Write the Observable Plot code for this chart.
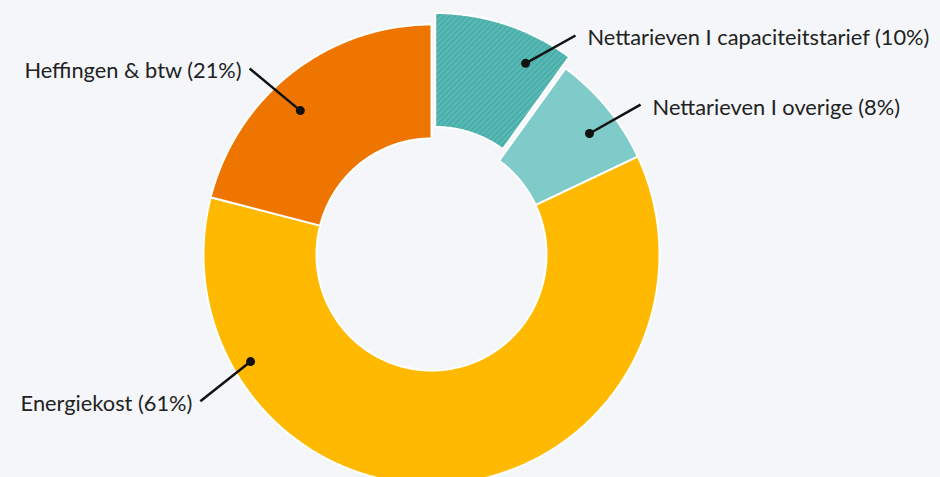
<!DOCTYPE html>
<html><head><meta charset="utf-8">
<script src="https://cdn.jsdelivr.net/npm/d3@7"></script>
<script src="https://cdn.jsdelivr.net/npm/@observablehq/plot@0.6"></script>
<style>
html,body{margin:0;padding:0;background:#f4f6f9;overflow:hidden;}
#chart svg{display:block;}
</style></head><body><div id="chart"></div>
<script>
// ---- data ----
const categories = ["Nettarieven I capaciteitstarief", "Nettarieven I overige", "Energiekost", "Heffingen & btw"];
const shares = [10, 8, 61, 21];
const exploded = ["Nettarieven I capaciteitstarief"];

// ---- styles / layout ----
const colors = ["url(#hatch)", "#7ecbca", "#ffb900", "#ee7600"];
const W = 940, H = 477, CX = 431, CY = 254, RX = 228, RY = 230, INNER = 115 / 228, EXPLODE = 12 / 228;
// label leader geometry in polar units (angle deg clockwise from top, radius in units of R)
const leaders = [
  {dotA: 26.9, dotR: 0.876, endA: 34.3, endR: 1.092, side: "right"},
  {dotA: 52.8, dotR: 0.870, endA: 54.6, endR: 1.125, side: "right"},
  {dotA: 239.6, dotR: 0.920, endA: 237.8, endR: 1.198, side: "left"},
  {dotA: 317.4, dotR: 0.850, endA: 315.4, endR: 1.136, side: "left"}
];

const total = d3.sum(shares);
const rad = (deg) => deg * Math.PI / 180;
const pol = (a, r) => [Math.sin(a) * r, -Math.cos(a) * r];

// slice polygons
const rows = [];
const sliceInfo = [];
let acc = 0;
categories.forEach((c, i) => {
  const a0 = acc / total * 2 * Math.PI;
  acc += shares[i];
  const a1 = acc / total * 2 * Math.PI;
  const mid = (a0 + a1) / 2;
  const off = exploded.includes(c) ? pol(mid, EXPLODE) : [0, 0];
  sliceInfo.push({c, off});
  const n = Math.max(8, Math.ceil((a1 - a0) / 0.01));
  const pts = [];
  for (let k = 0; k <= n; k++) pts.push(pol(a0 + (a1 - a0) * k / n, 1));
  for (let k = n; k >= 0; k--) pts.push(pol(a0 + (a1 - a0) * k / n, INNER));
  pts.push(pts[0]);
  pts.forEach(([x, y]) => rows.push({cat: c, x: x + off[0], y: y + off[1]}));
});

// leaders & labels
const labelRows = categories.map((c, i) => {
  const L = leaders[i], off = sliceInfo[i].off;
  const [dx, dy] = pol(rad(L.dotA), L.dotR);
  const [ex, ey] = pol(rad(L.endA), L.endR);
  return {cat: c, text: `${c} (${shares[i]}%)`, x1: dx + off[0], y1: dy + off[1], x2: ex + off[0], y2: ey + off[1], side: L.side};
});

const chart = Plot.plot({
  width: W, height: H, margin: 0,
  style: {background: "transparent", fontFamily: "Lato, sans-serif"},
  x: {domain: [-CX / RX, (W - CX) / RX], range: [0, W], axis: null},
  y: {domain: [-CY / RY, (H - CY) / RY], range: [0, H], axis: null},
  color: {domain: categories, range: colors},
  marks: [
    Plot.line(rows, {x: "x", y: "y", z: "cat", fill: "cat", stroke: "white", strokeWidth: 2, curve: "linear"}),
    Plot.link(labelRows, {x1: "x1", y1: "y1", x2: "x2", y2: "y2", stroke: "#111", strokeWidth: 2.5}),
    Plot.dot(labelRows, {x: "x1", y: "y1", r: 4.5, fill: "#111"}),
    Plot.text(labelRows.filter(d => d.side === "right"), {x: "x2", y: "y2", text: "text", textAnchor: "start", dx: 12, dy: 3, fontSize: 21.8, fill: "#222"}),
    Plot.text(labelRows.filter(d => d.side === "left"), {x: "x2", y: "y2", text: "text", textAnchor: "end", dx: -8, dy: 3, fontSize: 21.8, fill: "#222"})
  ]
});

// hatch pattern for the exploded slice
const svg = d3.select(chart);
const defs = svg.insert("defs", ":first-child");
const pat = defs.append("pattern").attr("id", "hatch").attr("patternUnits", "userSpaceOnUse")
  .attr("width", 4).attr("height", 4).attr("patternTransform", "rotate(-45)");
pat.append("rect").attr("width", 4).attr("height", 4).attr("fill", "#58b9b5");
pat.append("rect").attr("width", 4).attr("height", 1.3).attr("fill", "#45a8a4");

document.getElementById("chart").appendChild(chart);
</script>
</body></html>
